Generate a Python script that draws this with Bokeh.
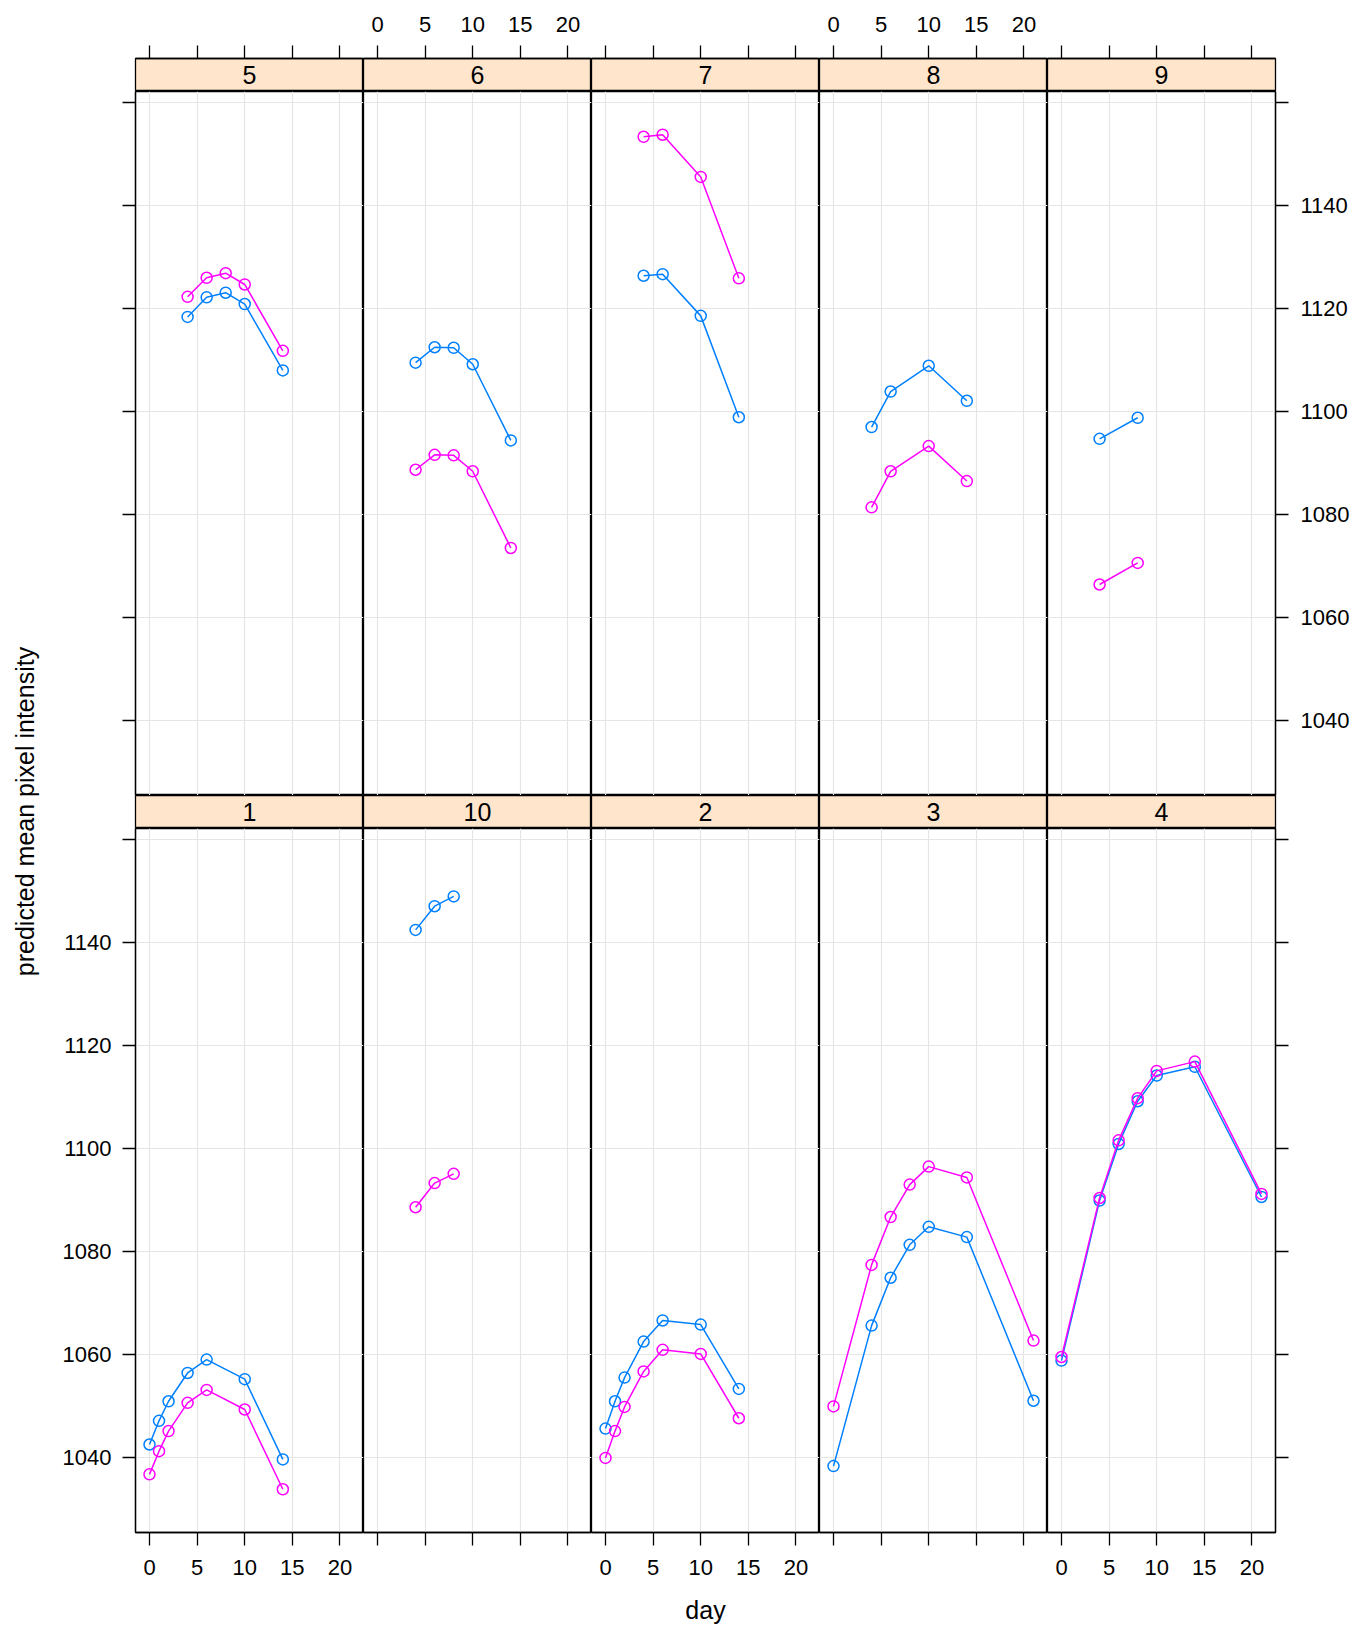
import math
from bokeh.plotting import figure
from bokeh.models import Range1d, FixedTicker, LinearAxis, CustomJSTickFormatter
from bokeh.layouts import row, column
from bokeh.embed import file_html
from bokeh.resources import INLINE
from bokeh.core.properties import value

# ---------------- data ----------------
top_panels = ["5", "6", "7", "8", "9"]
bottom_panels = ["1", "10", "2", "3", "4"]

x_ticks = [0, 5, 10, 15, 20]
y_ticks = [1040, 1060, 1080, 1100, 1120, 1140, 1160]

day_1 = [0, 1, 2, 4, 6, 10, 14]
L_1 = [1042.5, 1047.1, 1050.9, 1056.4, 1059.0, 1055.2, 1039.6]
R_1 = [1036.7, 1041.2, 1045.1, 1050.6, 1053.1, 1049.3, 1033.8]

day_2 = [0, 1, 2, 4, 6, 10, 14]
L_2 = [1045.6, 1050.9, 1055.5, 1062.5, 1066.6, 1065.8, 1053.3]
R_2 = [1039.9, 1045.1, 1049.8, 1056.7, 1060.9, 1060.1, 1047.6]

day_3 = [0, 4, 6, 8, 10, 14, 21]
L_3 = [1038.3, 1065.6, 1074.9, 1081.3, 1084.8, 1082.8, 1051.0]
R_3 = [1049.9, 1077.4, 1086.7, 1093.0, 1096.5, 1094.4, 1062.7]

day_4 = [0, 4, 6, 8, 10, 14, 21]
L_4 = [1058.8, 1089.9, 1100.9, 1109.2, 1114.2, 1115.9, 1090.6]
R_4 = [1059.5, 1090.4, 1101.6, 1109.8, 1115.1, 1116.9, 1091.2]

day_5 = [4, 6, 8, 10, 14]
L_5 = [1118.4, 1122.2, 1123.1, 1120.9, 1108.0]
R_5 = [1122.3, 1126.0, 1126.9, 1124.7, 1111.8]

day_6 = [4, 6, 8, 10, 14]
L_6 = [1109.5, 1112.5, 1112.4, 1109.2, 1094.4]
R_6 = [1088.7, 1091.6, 1091.5, 1088.4, 1073.5]

day_7 = [4, 6, 10, 14]
L_7 = [1126.4, 1126.7, 1118.6, 1098.9]
R_7 = [1153.4, 1153.8, 1145.6, 1125.9]

day_8 = [4, 6, 10, 14]
L_8 = [1097.0, 1103.9, 1108.9, 1102.1]
R_8 = [1081.4, 1088.4, 1093.3, 1086.5]

day_9 = [4, 8]
L_9 = [1094.7, 1098.8]
R_9 = [1066.4, 1070.6]

day_10 = [4, 6, 8]
L_10 = [1142.5, 1147.1, 1149.0]
R_10 = [1088.6, 1093.3, 1095.1]

series = {
    "1": (day_1, L_1, R_1), "2": (day_2, L_2, R_2), "3": (day_3, L_3, R_3),
    "4": (day_4, L_4, R_4), "5": (day_5, L_5, R_5), "6": (day_6, L_6, R_6),
    "7": (day_7, L_7, R_7), "8": (day_8, L_8, R_8), "9": (day_9, L_9, R_9),
    "10": (day_10, L_10, R_10),
}

# ---------------- style ----------------
FONT = "Liberation Sans"
BLUE = "#0080ff"
MAG = "#ff00ff"
STRIP_BG = "#ffe5cc"
GRID = "#e5e5e5"
FW, FH, SH = 228, 704, 33
YLAB_W = 58
LEFT_B, RIGHT_B, TOP_B, BOT_B = 77, 75, 58, 96
TICK_FONT = "22px"
LW = 1.5

xr = Range1d(-1.47, 22.47)
yr = Range1d(1025.4, 1162.2)

yfmt = CustomJSTickFormatter(code="return (tick > 1150) ? '' : tick.toFixed(0);")


def style_axis(ax, ticks, labels, standoff):
    ax.ticker = FixedTicker(ticks=ticks)
    ax.major_tick_out = 13
    ax.major_tick_in = 0
    ax.minor_tick_out = 0
    ax.minor_tick_in = 0
    ax.axis_line_color = "black"
    ax.axis_line_width = 1.3
    ax.major_tick_line_color = "black"
    ax.major_tick_line_width = 1.3
    ax.major_label_text_font = FONT
    ax.major_label_text_font_size = TICK_FONT
    ax.major_label_text_color = "black" if labels else None
    ax.major_label_standoff = standoff


def base_fig(w, h, col, top=0, bottom=0, yrange=None):
    p = figure(frame_width=w, frame_height=h, x_range=xr,
               y_range=yrange if yrange is not None else yr,
               x_axis_location=None, y_axis_location=None,
               toolbar_location=None, output_backend="svg",
               min_border_left=LEFT_B if col == 0 else 0,
               min_border_right=RIGHT_B if col == 4 else 0,
               min_border_top=top, min_border_bottom=bottom)
    p.outline_line_color = "black"
    p.outline_line_width = 1.3
    p.border_fill_color = "white"
    return p


def strip_fig(label, col, top_row):
    p = base_fig(FW, SH, col, top=TOP_B if top_row else 0, yrange=Range1d(0, 1))
    p.background_fill_color = STRIP_BG
    for g in p.grid:
        g.visible = False
    p.text(x=[(xr.start + xr.end) / 2], y=[0.5], text=[label],
           text_align="center", text_baseline="middle",
           text_font=value(FONT), text_font_size="25px", text_color="black",
           text_font_style="normal")
    if top_row:
        ax = LinearAxis()
        style_axis(ax, x_ticks, col in (1, 3), 14)
        p.add_layout(ax, "above")
    return p


def panel_fig(label, col, row_i):
    p = base_fig(FW, FH, col, bottom=BOT_B if row_i == 1 else 0)
    p.xgrid.ticker = FixedTicker(ticks=x_ticks)
    p.ygrid.ticker = FixedTicker(ticks=y_ticks)
    p.xgrid.grid_line_color = GRID
    p.ygrid.grid_line_color = GRID
    p.xgrid.grid_line_width = 1.2
    p.ygrid.grid_line_width = 1.2
    d, l, r = series[label]
    for ys, c in ((l, BLUE), (r, MAG)):
        p.line(d, ys, line_color=c, line_width=LW)
        p.scatter(d, ys, marker="circle", size=11, fill_color=None,
                  line_color=c, line_width=LW)
    if col == 0:
        ax = LinearAxis(formatter=yfmt)
        style_axis(ax, y_ticks, row_i == 1, 11)
        p.add_layout(ax, "left")
    if col == 4:
        ax = LinearAxis(formatter=yfmt)
        style_axis(ax, y_ticks, row_i == 0, 12)
        p.add_layout(ax, "right")
    if row_i == 1:
        ax = LinearAxis()
        style_axis(ax, x_ticks, col in (0, 2, 4), 14)
        if col == 2:
            ax.axis_label = "day"
            ax.axis_label_text_font = FONT
            ax.axis_label_text_font_size = "25px"
            ax.axis_label_text_font_style = "normal"
            ax.axis_label_text_color = "black"
            ax.axis_label_standoff = 18
        p.add_layout(ax, "below")
    return p


strips_top = row(*[strip_fig(lab, i, True) for i, lab in enumerate(top_panels)])
panels_top = row(*[panel_fig(lab, i, 0) for i, lab in enumerate(top_panels)])
strips_bot = row(*[strip_fig(lab, i, False) for i, lab in enumerate(bottom_panels)])
panels_bot = row(*[panel_fig(lab, i, 1) for i, lab in enumerate(bottom_panels)])

TOTAL_H = (TOP_B + SH) + FH + SH + FH + BOT_B
ylab = figure(frame_width=YLAB_W, frame_height=TOTAL_H, x_range=Range1d(0, YLAB_W),
              y_range=Range1d(0, TOTAL_H), x_axis_location=None,
              y_axis_location=None, toolbar_location=None, output_backend="svg",
              min_border=0)
ylab.outline_line_color = None
for g in ylab.grid:
    g.visible = False
ylab.text(x=[24], y=[TOTAL_H - 811], text=["predicted mean pixel intensity"],
          angle=math.pi / 2, text_align="center", text_baseline="middle",
          text_font=value(FONT), text_font_size="25px", text_color="black")

p = row(ylab, column(strips_top, panels_top, strips_bot, panels_bot))

open("out.html", "w").write(file_html(p, INLINE))
